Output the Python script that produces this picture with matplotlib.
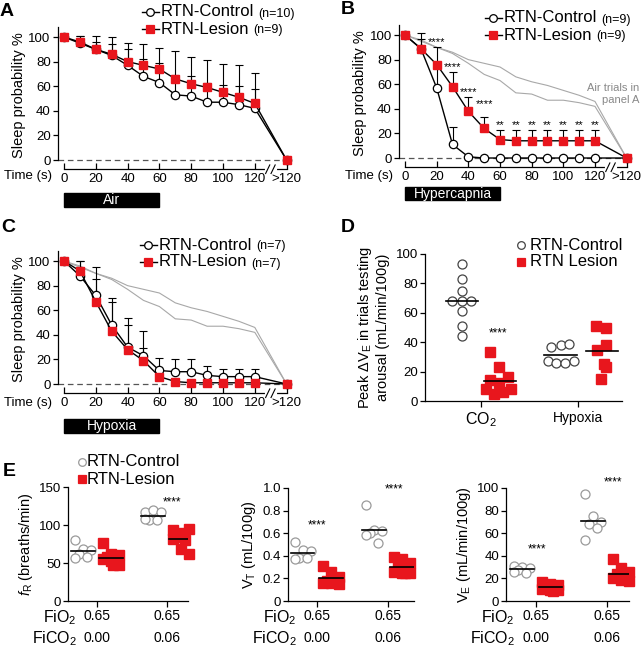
import numpy as np
import matplotlib.pyplot as plt
from matplotlib.lines import Line2D
from matplotlib.patches import Rectangle
from matplotlib.transforms import blended_transform_factory

plt.rcParams['font.family'] = ['Liberation Sans', 'DejaVu Sans']
plt.rcParams['mathtext.fontset'] = 'custom'
plt.rcParams['mathtext.rm'] = 'Liberation Sans'
plt.rcParams['mathtext.it'] = 'Liberation Sans:italic'
plt.rcParams['mathtext.bf'] = 'Liberation Sans:bold'
plt.rcParams['axes.linewidth'] = 0.9

RED = '#e8161d'
LIGHT = '#a8a8a8'
W, H = 642, 651

# ---- A-C: sleep probability (%) vs time, last point is ">120"
time_s = [0, 10, 20, 30, 40, 50, 60, 70, 80, 90, 100, 110, 120]
time_ticks = [0, 20, 40, 60, 80, 100, 120]
after_label = '>120'

air_ctrl = [100, 95, 90, 85, 77, 68, 63, 53, 52, 47, 47, 45, 42, 0]
air_ctrl_err = [0, 6, 6, 9, 13, 14, 16, 16, 16, 16, 14, 15, 16, 0]
air_les = [100, 96, 90, 86, 80, 77, 74, 66, 62, 59, 55, 51, 46, 0]
air_les_err = [0, 5, 11, 14, 15, 17, 17, 23, 22, 22, 23, 26, 25, 0]

hc_ctrl = [100, 89, 57, 11, 1, 0, 0, 0, 0, 0, 0, 0, 0, 0]
hc_ctrl_err = [0, 8, 20, 14, 0, 0, 0, 0, 0, 0, 0, 0, 0, 0]
hc_les = [100, 89, 76, 58, 38, 24, 15, 14, 14, 14, 14, 14, 14, 0]
hc_les_err = [0, 13, 14, 12, 12, 9, 8, 9, 9, 9, 9, 9, 9, 0]
hc_star_t = [20, 30, 40, 50, 60, 70, 80, 90, 100, 110, 120]
hc_star_y = [94, 74, 54, 44, 27, 27, 27, 27, 27, 27, 27]
hc_star_txt = ['****'] * 4 + ['**'] * 7

hx_ctrl = [100, 88, 72, 48, 30, 23, 11, 10, 10, 7, 6, 6, 6, 0]
hx_ctrl_err = [0, 12, 23, 22, 24, 20, 10, 10, 10, 8, 6, 6, 6, 0]
hx_les = [100, 92, 67, 43, 28, 19, 6, 2, 1, 1, 1, 1, 1, 0]
hx_les_err = [0, 8, 18, 24, 20, 10, 5, 1, 0, 0, 0, 0, 0, 0]

# ---- D: peak delta VE in trials testing arousal
d_cats = ['CO$_2$', 'Hypoxia']
d_co2_ctrl = [93, 83, 75, 68, 68, 68, 61, 51, 44]
d_co2_les = [33, 23, 16, 14, 12, 8, 8, 6, 5]
d_hyp_ctrl = [37, 38, 39, 27, 26, 26, 27]
d_hyp_les = [51, 50, 38, 35, 23, 15, 25]

# ---- E: breathing at FiO2/FiCO2
fio2 = ['0.65', '0.65']
fico2 = ['0.00', '0.06']
fr_ctrl = [[80, 68, 67, 62, 58, 57], [117, 120, 117, 107, 106, 108]]
fr_les = [[76, 62, 60, 58, 57, 55, 52, 48, 47], [93, 89, 95, 84, 80, 82, 69, 62]]
vt_ctrl = [[0.52, 0.45, 0.44, 0.38, 0.38, 0.37], [0.85, 0.63, 0.62, 0.60, 0.51, 0.58]]
vt_les = [[0.31, 0.26, 0.21, 0.18, 0.17, 0.16, 0.16, 0.15],
          [0.39, 0.37, 0.34, 0.31, 0.28, 0.26, 0.25, 0.25, 0.25]]
ve_ctrl = [[31, 30, 29, 27, 25, 26], [95, 75, 70, 68, 65, 54]]
ve_les = [[17, 15, 14, 13, 12, 11, 10, 10, 9], [37, 29, 26, 24, 22, 20, 19, 18, 21]]

BREAK_X = 140


def rect(l, t, r, b):
    return [l / W, 1 - b / H, (r - l) / W, (b - t) / H]


def legend_row(ax, x, y, marker, face, edge, label, note=None, line=True, gap=11):
    fig = ax.figure
    fy = 1 - y / H
    if line:
        fig.add_artist(Line2D([(x - 8) / W, (x + 9) / W], [fy, fy], color='k', lw=1))
    fig.add_artist(Line2D([x / W], [fy], marker=marker, ms=5.5, mfc=face, mec=edge,
                          mew=0.9, ls='none'))
    t = fig.text((x + gap) / W, fy, label, fontsize=12, va='center', ha='left')
    if note:
        ax.annotate(note, xy=(1, 0), xycoords=t, xytext=(3, 0), textcoords='offset points',
                    fontsize=9, va='bottom', annotation_clip=False)


def time_panel(ax, ctrl, ctrl_err, les, les_err, bar_text, bar_top):
    x = np.array(time_s + [BREAK_X])
    ax.set_xlim(-4, 142)
    ax.set_ylim(-3, 108)
    ax.plot([-4, BREAK_X], [0, 0], color='#555555', lw=0.9, ls=(0, (4.5, 3)), zorder=1)
    n = len(time_s)
    for vals, err in ((ctrl, ctrl_err), (les, les_err)):
        v = np.array(vals[1:n], float)
        e = np.array(err[1:n], float)
        keep = e > 0
        ax.errorbar(x[1:n][keep], v[keep], yerr=[np.zeros(keep.sum()), e[keep]], fmt='none',
                    ecolor='k', elinewidth=0.8, capsize=3, capthick=0.8, zorder=2)
    ax.plot(x, ctrl, '-o', color='k', lw=1, ms=6, mfc='white', mec='k', mew=0.9,
            zorder=3, clip_on=False)
    ax.plot(x, les, '-s', color='k', lw=1, ms=6, mfc=RED, mec=RED, zorder=4, clip_on=False)
    for s in ('top', 'right'):
        ax.spines[s].set_visible(False)
    ax.spines['left'].set_bounds(0, 108)
    ax.spines['bottom'].set_position(('data', -7.5))
    ax.spines['bottom'].set_bounds(0, BREAK_X)
    ax.set_yticks([0, 20, 40, 60, 80, 100])
    ax.set_xticks(time_ticks + [BREAK_X], [str(t) for t in time_ticks] + [after_label])
    ax.tick_params(axis='y', direction='out', length=3.5, width=0.9, labelsize=9.5, pad=1.5)
    ax.tick_params(axis='x', direction='in', length=4, width=0.9, labelsize=9.5, pad=3)
    # axis break
    ax.plot([127.5, 132.5], [-7.5, -7.5], color='white', lw=3, clip_on=False, zorder=10)
    for x0 in (126.8, 130.2):
        ax.plot([x0, x0 + 2.6], [-11, -4], color='k', lw=0.8, clip_on=False, zorder=11)
    ax.add_patch(Rectangle((0, bar_top - 11), 60, 11, color='k', clip_on=False))
    ax.text(30, bar_top - 5.5, bar_text, color='white', ha='center', va='center', fontsize=10)
    ax.set_ylabel('Sleep probability %', fontsize=10.5, labelpad=2)


fig = plt.figure(figsize=(6.42, 6.51), dpi=100)

# A
axA = fig.add_axes(rect(57.6, 27.2, 289.8, 163.7))
time_panel(axA, air_ctrl, air_ctrl_err, air_les, air_les_err, 'Air', -27)
legend_row(axA, 150, 12, 'o', 'white', 'k', 'RTN-Control', '(n=10)')
legend_row(axA, 150, 29, 's', RED, RED, 'RTN-Lesion', '(n=9)')
fig.text(52 / W, 1 - 176 / H, 'Time (s)', ha='right', va='center', fontsize=9.5)

# B
axB = fig.add_axes(rect(398.7, 25.2, 629.8, 161.7))
xall = time_s + [BREAK_X]
axB.plot(xall, air_ctrl, color=LIGHT, lw=0.8, zorder=1)
axB.plot(xall, air_les, color=LIGHT, lw=0.8, zorder=1)
time_panel(axB, hc_ctrl, hc_ctrl_err, hc_les, hc_les_err, 'Hypercapnia', -23.5)
for t, y, s in zip(hc_star_t, hc_star_y, hc_star_txt):
    axB.text(t, y, s, ha='center', va='center', fontsize=8)
axB.text(148, 52, 'Air trials in\npanel A', ha='right', va='center', fontsize=8,
         color='#888888', linespacing=1.2)
legend_row(axB, 493, 18, 'o', 'white', 'k', 'RTN-Control', '(n=9)')
legend_row(axB, 493, 35, 's', RED, RED, 'RTN-Lesion', '(n=9)')
fig.text(393 / W, 1 - 176 / H, 'Time (s)', ha='right', va='center', fontsize=9.5)

# C
axC = fig.add_axes(rect(57.6, 251.2, 289.8, 387.7))
axC.plot(xall, air_ctrl, color=LIGHT, lw=0.8, zorder=1)
axC.plot(xall, air_les, color=LIGHT, lw=0.8, zorder=1)
time_panel(axC, hx_ctrl, hx_ctrl_err, hx_les, hx_les_err, 'Hypoxia', -28.5)
legend_row(axC, 148, 245, 'o', 'white', 'k', 'RTN-Control', '(n=7)')
legend_row(axC, 148, 262, 's', RED, RED, 'RTN-Lesion', '(n=7)')
fig.text(52 / W, 1 - 403 / H, 'Time (s)', ha='right', va='center', fontsize=9.5)

# D
axD = fig.add_axes(rect(425, 254, 622, 401))
axD.set_xlim(0.423, 2.454)
axD.set_ylim(0, 100)
d_groups = [
    (1 - 0.2, d_co2_ctrl, [0, 0, 0, -0.1, 0, 0.1, 0, 0, 0], 'ctrl'),
    (1 + 0.2, d_co2_les, [-0.11, -0.01, 0.08, -0.11, -0.01, -0.15, 0.11, 0.03, -0.07], 'les'),
    (2 - 0.18, d_hyp_ctrl, [-0.1, 0.01, 0.09, -0.13, -0.05, 0.05, 0.14], 'ctrl'),
    (2 + 0.25, d_hyp_les, [-0.06, 0.04, 0.04, -0.05, 0.04, -0.01, 0.02], 'les'),
]
for c, vals, dx, kind in d_groups:
    xs = c + np.array(dx)
    if kind == 'ctrl':
        axD.plot(xs, vals, 'o', ms=6.5, mfc='white', mec='#444444', mew=0.9, ls='none',
                 clip_on=False, zorder=3)
    else:
        axD.plot(xs, vals, 's', ms=6.5, mfc=RED, mec=RED, ls='none', clip_on=False, zorder=3)
    axD.plot([c - 0.165, c + 0.165], [np.mean(vals)] * 2, color='k', lw=1.2, zorder=4)
axD.text(1.18, 46, '****', ha='center', va='center', fontsize=8.5)
for s in ('top', 'right'):
    axD.spines[s].set_visible(False)
axD.set_yticks([0, 20, 40, 60, 80, 100])
axD.set_xticks([1, 2], d_cats)
axD.get_xticklabels()[0].set_fontsize(11.5)
axD.get_xticklabels()[1].set_fontsize(10)
axD.tick_params(axis='y', direction='out', length=3.5, width=0.9, labelsize=9.5, pad=1.5)
axD.tick_params(axis='x', direction='out', length=4, width=0.9, pad=3)
axD.set_ylabel('Peak ΔV$_{\\rm E}$ in trials testing\narousal (mL/min/100g)', fontsize=10.5,
               labelpad=4, linespacing=1.25)
legend_row(axD, 521, 245, 'o', 'white', '#444444', 'RTN-Control', line=False, gap=9)
legend_row(axD, 521, 262, 's', RED, RED, 'RTN Lesion', line=False, gap=9)


# E
def spread(vals, w):
    pattern = [-1, 0, 1, -0.5, 0.5, -1, 0, 1, 0.3]
    return np.array([pattern[i % len(pattern)] * w for i in range(len(vals))])


def vent_panel(box, ctrl, les, top, yticks, yticklabels, ylabel, xlim, stars, spine_px):
    ax = fig.add_axes(rect(*box))
    ax.set_xlim(*xlim)
    ax.set_ylim(0, top)
    for i, (cv, lv) in enumerate(zip(ctrl, les)):
        pos = i + 1
        c, l = pos - 0.2, pos + 0.2
        ax.plot(c + spread(cv, 0.11), cv, 'o', ms=6.5, mfc='white', mec='#9a9a9a', mew=0.9,
                ls='none', clip_on=False, zorder=3)
        ax.plot([c - 0.165, c + 0.165], [np.mean(cv)] * 2, color='k', lw=1.2, zorder=4)
        ax.plot(l + spread(lv, 0.11), lv, 's', ms=6.5, mfc=RED, mec=RED, ls='none',
                clip_on=False, zorder=3)
        ax.plot([l - 0.165, l + 0.165], [np.mean(lv)] * 2, color='k', lw=1.2, zorder=4)
    for sx, sy in stars:
        ax.text(sx, sy, '****', ha='center', va='center', fontsize=8.5)
    for s in ('top', 'right'):
        ax.spines[s].set_visible(False)
    ax.set_yticks(yticks, yticklabels)
    ax.set_xticks([1, 2], ['', ''])
    ax.tick_params(axis='y', direction='out', length=3.5, width=0.9, labelsize=9.5, pad=1.5)
    ax.tick_params(axis='x', direction='out', length=4, width=0.9)
    ax.set_ylabel(ylabel, fontsize=10.5, labelpad=3)
    trans = blended_transform_factory(ax.transData, ax.transAxes)
    for i in range(2):
        ax.text(i + 1, -0.167, fio2[i], transform=trans, ha='center', va='baseline', fontsize=10)
        ax.text(i + 1, -0.36, fico2[i], transform=trans, ha='center', va='baseline', fontsize=10)
    fig.text((spine_px + 9) / W, 1 - 622 / H, 'FiO$_2$', ha='right', va='baseline', fontsize=11.5)
    fig.text((spine_px + 9) / W, 1 - 643 / H, 'FiCO$_2$', ha='right', va='baseline', fontsize=11.5)
    return ax


axE1 = vent_panel((68, 487, 188, 601), fr_ctrl, fr_les, 150, [0, 50, 100, 150],
                  ['0', '50', '100', '150'], '$\\it{f}_{\\rm R}$ (breaths/min)',
                  (0.586, 2.30), [(2.07, 130)], 68)
axE2 = vent_panel((288, 488, 414, 601), vt_ctrl, vt_les, 1.0, [0, 0.2, 0.4, 0.6, 0.8, 1.0],
                  ['0', '0.2', '0.4', '0.6', '0.8', '1.0'], 'V$_{\\rm T}$ (mL/100g)',
                  (0.592, 2.366), [(1.0, 0.67), (2.08, 0.985)], 288)
axE3 = vent_panel((506, 488, 629, 601), ve_ctrl, ve_les, 100, [0, 20, 40, 60, 80, 100],
                  ['0', '20', '40', '60', '80', '100'], 'V$_{\\rm E}$ (mL/min/100g)',
                  (0.577, 2.31), [(1.01, 46), (2.08, 105)], 506)
legend_row(axE1, 82, 462, 'o', 'white', '#9a9a9a', 'RTN-Control', line=False, gap=5)
legend_row(axE1, 82, 479, 's', RED, RED, 'RTN-Lesion', line=False, gap=5)

# panel letters
for letter, x, y in (('A', 7, 11), ('B', 348, 9), ('C', 8, 227), ('D', 348, 228), ('E', 9, 471)):
    fig.text(x / W, 1 - y / H, letter, fontsize=14, fontweight='bold', ha='center', va='center')

fig.savefig('out.png', dpi=100)
